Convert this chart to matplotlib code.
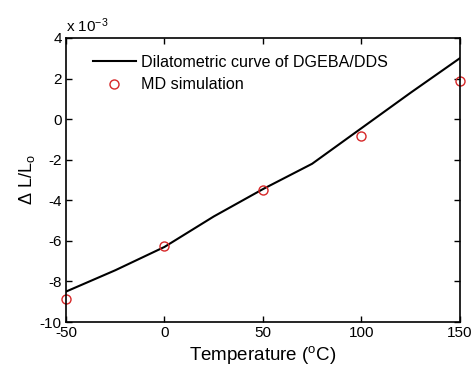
import matplotlib
matplotlib.use("Agg")
import matplotlib.pyplot as plt

plt.rcParams['font.family'] = ['Liberation Sans', 'DejaVu Sans']
plt.rcParams['mathtext.fontset'] = 'custom'
plt.rcParams['mathtext.rm'] = 'Liberation Sans'
plt.rcParams['mathtext.it'] = 'Liberation Sans'
plt.rcParams['axes.unicode_minus'] = False

# Daten (Werte in 10^-3)
temp_kurve = [-50, -25, 0, 25, 50, 75, 100, 125, 150]
dl_kurve = [-8.5, -7.45, -6.3, -4.8, -3.45, -2.2, -0.45, 1.3, 3.0]
temp_md = [-50, 0, 50, 100, 150]
dl_md = [-8.87, -6.24, -3.5, -0.82, 1.87]

fig = plt.figure(figsize=(4.75, 3.76), dpi=100)
ax = fig.add_axes([0.139, 0.1436, 0.829, 0.7554])

ax.plot(temp_kurve, dl_kurve, color='k', linewidth=1.5, label='Dilatometric curve of DGEBA/DDS')
ax.plot(temp_md, dl_md, linestyle='none', marker='o', markersize=6.5,
        markerfacecolor='none', markeredgecolor='#d62728', markeredgewidth=1.0,
        label='MD simulation', clip_on=False)

ax.set_xlim(-50, 150)
ax.set_ylim(-10, 4)
ax.set_xticks([-50, 0, 50, 100, 150])
ax.set_yticks([-10, -8, -6, -4, -2, 0, 2, 4])
ax.tick_params(direction='in', top=True, right=True, labelsize=11, length=4, width=1, pad=3)
for s in ax.spines.values():
    s.set_linewidth(1.2)

ax.text(0.0, 1.01, r'x 10$^{-3}$', transform=ax.transAxes, fontsize=11, ha='left', va='bottom')
ax.set_xlabel(r'Temperature ($^{\rm o}$C)', fontsize=13.5, labelpad=3)
ax.set_ylabel(r'$\Delta$ L/L$_{\rm o}$', fontsize=13, labelpad=2)

ax.legend(loc='upper left', frameon=False, fontsize=11.6, handlelength=2.7,
          borderaxespad=0.4, handletextpad=0.3, labelspacing=0.45,
          bbox_to_anchor=(0.035, 0.985))

fig.savefig('out.png', dpi=100)
